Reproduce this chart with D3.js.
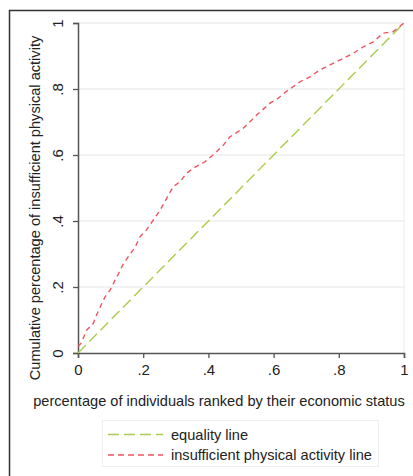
<!DOCTYPE html>
<html><head><meta charset="utf-8">
<script src="https://cdn.jsdelivr.net/npm/d3@7"></script>
<style>body{margin:0;background:#fff}svg{display:block}text{font-family:"Liberation Sans",Arial,sans-serif;fill:#222}</style>
</head><body>
<script>
const xTicks = [0, 0.2, 0.4, 0.6, 0.8, 1];
const yTicks = [0, 0.2, 0.4, 0.6, 0.8, 1];
const tickLabels = ["0", ".2", ".4", ".6", ".8", "1"];
const equalityX = [0, 1];
const equalityY = [0, 1];
const concX = [0, 0.009, 0.027, 0.047, 0.057, 0.073, 0.083, 0.098, 0.108, 0.124, 0.139, 0.160, 0.175, 0.190, 0.21, 0.231, 0.252, 0.272, 0.292, 0.313, 0.333, 0.354, 0.39, 0.42, 0.446, 0.466, 0.507, 0.533, 0.548, 0.589, 0.614, 0.645, 0.66, 0.681, 0.712, 0.742, 0.773, 0.804, 0.844, 0.875, 0.906, 0.936, 0.967, 1];
const concY = [0.02, 0.029, 0.07, 0.09, 0.115, 0.15, 0.17, 0.19, 0.21, 0.24, 0.27, 0.30, 0.32, 0.352, 0.373, 0.403, 0.433, 0.469, 0.504, 0.519, 0.545, 0.56, 0.58, 0.605, 0.63, 0.655, 0.681, 0.706, 0.721, 0.757, 0.772, 0.797, 0.807, 0.822, 0.837, 0.858, 0.873, 0.888, 0.908, 0.928, 0.943, 0.969, 0.974, 1];
const seriesNames = ["equality line", "insufficient physical activity line"];
const colors = ["#a9cc4a", "#f0545c"];

const W = 413, H = 476;
const svg = d3.select("body").append("svg").attr("width", W).attr("height", H);

// outer frame
svg.append("path").attr("d", `M9.5,${H} V10.5 H${W}`).attr("fill","none").attr("stroke","#333").attr("stroke-width",1.5);

const x = d3.scaleLinear().domain([0,1]).range([78,404]);
const y = d3.scaleLinear().domain([0,1]).range([353,23]);

// grid
svg.append("g").selectAll("line").data(yTicks.filter(d=>d>0)).join("line")
  .attr("x1", x(0)).attr("x2", x(1)).attr("y1", d=>y(d)).attr("y2", d=>y(d))
  .attr("stroke","#e6e6e6").attr("stroke-width",1.2);
svg.append("line").attr("x1", x(1)).attr("x2", x(1)).attr("y1", y(0)).attr("y2", y(1))
  .attr("stroke","#ececec").attr("stroke-width",1);

// axes
const xAxis = svg.append("g").attr("transform",`translate(0,${y(0)})`)
  .call(d3.axisBottom(x).tickValues(xTicks).tickSize(5).tickPadding(6).tickFormat((d,i)=>tickLabels[i]));
const yAxis = svg.append("g").attr("transform",`translate(${x(0)},0)`)
  .call(d3.axisLeft(y).tickValues(yTicks).tickSize(5).tickFormat((d,i)=>tickLabels[i]));
[xAxis,yAxis].forEach(a=>{
  a.select(".domain").attr("stroke","#555").attr("stroke-width",1.5);
  a.selectAll(".tick line").attr("stroke","#555").attr("stroke-width",1.3);
  a.selectAll("text").style("font-family",'"Liberation Sans",Arial,sans-serif').style("font-size","15px").attr("fill","#222");
});
yAxis.selectAll(".tick text").attr("transform","rotate(-90)").attr("x",0).attr("y",-15).attr("dy","0").attr("text-anchor","middle");

// lines
const line = d3.line().x(d=>x(d[0])).y(d=>y(d[1]));
svg.append("path").datum(equalityX.map((v,i)=>[v,equalityY[i]])).attr("d",line)
  .attr("fill","none").attr("stroke",colors[0]).attr("stroke-width",1.4).attr("stroke-dasharray","11,5");
svg.append("path").datum(concX.map((v,i)=>[v,concY[i]])).attr("d",line)
  .attr("fill","none").attr("stroke",colors[1]).attr("stroke-width",1.4).attr("stroke-dasharray","5,4");

// titles
svg.append("text").attr("transform",`translate(40,208) rotate(-90)`).attr("text-anchor","middle")
  .style("font-size","14.6px").text("Cumulative percentage of insufficient physical activity");
svg.append("text").attr("x",219).attr("y",406).attr("text-anchor","middle")
  .style("font-size","14.6px").text("percentage of individuals ranked by their economic status");

// legend
const lg = svg.append("g");
lg.append("rect").attr("x",102.5).attr("y",420.5).attr("width",276).attr("height",46)
  .attr("fill","#fff").attr("stroke","#eee");
const dashes = ["11,5","6,4"];
seriesNames.forEach((n,i)=>{
  const yy = 434.5 + i*20.5;
  lg.append("line").attr("x1",108).attr("x2",163).attr("y1",yy).attr("y2",yy)
    .attr("stroke",colors[i]).attr("stroke-width",1.4).attr("stroke-dasharray",dashes[i]);
  lg.append("text").attr("x",171).attr("y",yy+5).style("font-size","14.6px").text(n);
});
</script>
</body></html>
